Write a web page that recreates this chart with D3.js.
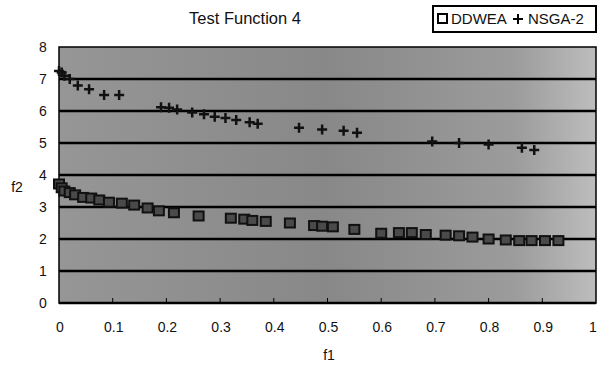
<!DOCTYPE html>
<html><head><meta charset="utf-8">
<script src="https://cdn.jsdelivr.net/npm/d3@7"></script>
<style>body{margin:0;background:#fff}svg{display:block}text{font-family:"Liberation Sans",Arial,sans-serif;fill:#111}</style>
</head><body>
<script>
const title = "Test Function 4";
const xTicks = [0,0.1,0.2,0.3,0.4,0.5,0.6,0.7,0.8,0.9,1];
const xTickLabels = ["0","0.1","0.2","0.3","0.4","0.5","0.6","0.7","0.8","0.9","1"];
const yTicks = [0,1,2,3,4,5,6,7,8];
const seriesNames = ["DDWEA","NSGA-2"];
const ddweaF1 = [0,0.005,0.01,0.02,0.03,0.045,0.06,0.075,0.093,0.117,0.14,0.165,0.186,0.214,0.26,0.32,0.345,0.36,0.385,0.43,0.475,0.49,0.51,0.55,0.6,0.633,0.657,0.683,0.72,0.745,0.77,0.8,0.832,0.857,0.88,0.905,0.93];
const ddweaF2 = [3.72,3.6,3.5,3.45,3.38,3.3,3.28,3.22,3.15,3.12,3.06,2.97,2.88,2.82,2.72,2.65,2.62,2.58,2.55,2.5,2.42,2.4,2.38,2.3,2.18,2.2,2.2,2.14,2.12,2.1,2.06,2.0,1.97,1.95,1.95,1.95,1.95];
const nsgaF1 = [0,0.005,0.01,0.02,0.035,0.056,0.084,0.112,0.19,0.205,0.22,0.248,0.27,0.29,0.31,0.33,0.355,0.37,0.447,0.49,0.53,0.555,0.695,0.745,0.80,0.862,0.885];
const nsgaF2 = [7.25,7.2,7.1,7.0,6.8,6.68,6.5,6.5,6.12,6.1,6.05,5.95,5.9,5.82,5.78,5.72,5.65,5.6,5.48,5.42,5.38,5.32,5.05,5.0,4.95,4.85,4.78];

const W=600,H=365;
const svg=d3.select("body").append("svg").attr("width",W).attr("height",H);
const x=d3.scaleLinear().domain([0,1]).range([59,596]);
const y=d3.scaleLinear().domain([0,8]).range([303,47]);

const defs=svg.append("defs");
const g=defs.append("linearGradient").attr("id","bg").attr("x1","0").attr("x2","1").attr("y1","0").attr("y2","0");
g.append("stop").attr("offset","0").attr("stop-color","#969696");
g.append("stop").attr("offset","0.5").attr("stop-color","#888888");
g.append("stop").attr("offset","0.85").attr("stop-color","#9c9c9c");
g.append("stop").attr("offset","1").attr("stop-color","#bdbdbd");

svg.append("rect").attr("x",x(0)).attr("y",y(8)).attr("width",x(1)-x(0)).attr("height",y(0)-y(8))
  .attr("fill","url(#bg)").attr("stroke","#000").attr("stroke-width",1.5);

// gridlines
svg.append("g").selectAll("line").data(yTicks.filter(d=>d>0&&d<8)).join("line")
  .attr("x1",x(0)).attr("x2",x(1)).attr("y1",d=>y(d)).attr("y2",d=>y(d))
  .attr("stroke","#000").attr("stroke-width",2.5);
svg.append("line").attr("x1",x(0)).attr("x2",x(1)).attr("y1",y(0)).attr("y2",y(0)).attr("stroke","#000").attr("stroke-width",2.5);

// x ticks inside
svg.append("g").selectAll("line").data(xTicks.slice(1,-1)).join("line")
  .attr("x1",d=>x(d)).attr("x2",d=>x(d)).attr("y1",y(0)).attr("y2",y(0)-5).attr("stroke","#000").attr("stroke-width",1);

// tick labels
svg.append("g").selectAll("text").data(xTicks).join("text")
  .attr("x",d=>Math.min(x(d)+1,593)).attr("y",332).attr("text-anchor","middle").attr("font-size",14)
  .text((d,i)=>xTickLabels[i]);
svg.append("g").selectAll("text").data(yTicks).join("text")
  .attr("x",43).attr("y",d=>y(d)+5).attr("text-anchor","middle").attr("font-size",14).text(d=>d);

svg.append("text").attr("x",329).attr("y",360).attr("text-anchor","middle").attr("font-size",14).text("f1");
svg.append("text").attr("x",17).attr("y",192).attr("text-anchor","middle").attr("font-size",14).text("f2");
svg.append("text").attr("x",245).attr("y",24).attr("text-anchor","middle").attr("font-size",16.5).text(title);

// DDWEA squares
const ddwea=ddweaF1.map((v,i)=>({f1:v,f2:ddweaF2[i]}));
svg.append("g").selectAll("rect").data(ddwea).join("rect")
  .attr("x",d=>x(d.f1)-5).attr("y",d=>y(d.f2)-4.5).attr("width",10).attr("height",9)
  .attr("fill","#4a4a4a").attr("stroke","#111").attr("stroke-width",2);

// NSGA pluses
const nsga=nsgaF1.map((v,i)=>({f1:v,f2:nsgaF2[i]}));
svg.append("g").selectAll("path").data(nsga).join("path")
  .attr("d",d=>{const cx=x(d.f1),cy=y(d.f2);return `M${cx-5},${cy}H${cx+5}M${cx},${cy-5}V${cy+5}`;})
  .attr("stroke","#111").attr("stroke-width",2.5).attr("fill","none");

// legend
const lg=svg.append("g");
lg.append("rect").attr("x",433).attr("y",6).attr("width",163).attr("height",26).attr("fill","#fff").attr("stroke","#000").attr("stroke-width",2);
lg.append("rect").attr("x",438).attr("y",14).attr("width",9).attr("height",9).attr("fill","#fff").attr("stroke","#000").attr("stroke-width",2);
lg.append("text").attr("x",451).attr("y",24).attr("font-size",15).text(seriesNames[0]);
lg.append("path").attr("d","M513,19H523M518,14V24").attr("stroke","#000").attr("stroke-width",2);
lg.append("text").attr("x",528).attr("y",24).attr("font-size",15).text(seriesNames[1]);
</script>
</body></html>
